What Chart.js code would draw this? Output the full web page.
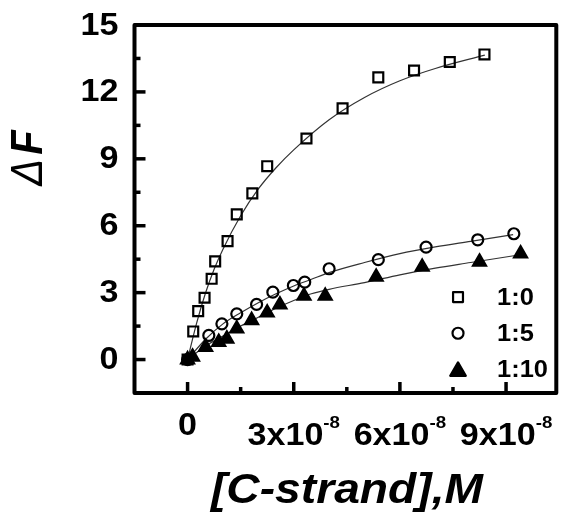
<!DOCTYPE html>
<html>
<head>
<meta charset="utf-8">
<title>ΔF vs [C-strand]</title>
<script src="https://cdn.jsdelivr.net/npm/chart.js"></script>
<style>
  html, body { margin: 0; padding: 0; background: #fff; }
  #wrap { width: 566px; height: 519px; }
</style>
</head>
<body>
<div id="wrap"><canvas id="chart" width="566" height="519"></canvas></div>
<script>
// concentrations in units of 10^-8 M
const seriesLabels = ['1:0', '1:5', '1:10'];

const conc10 = [0, 0.16, 0.30, 0.48, 0.68, 0.78, 1.13, 1.39, 1.83, 2.25, 3.36, 4.38, 5.39, 6.40, 7.41, 8.39];
const dF10   = [0, 1.26, 2.17, 2.77, 3.62, 4.40, 5.31, 6.51, 7.45, 8.67, 9.91, 11.26, 12.65, 12.96, 13.34, 13.68];

const conc15 = [0, 0.60, 0.97, 1.39, 1.95, 2.41, 2.99, 3.31, 4.00, 5.39, 6.74, 8.20, 9.22];
const dF15   = [0, 1.08, 1.60, 2.05, 2.47, 3.02, 3.32, 3.47, 4.07, 4.48, 5.04, 5.37, 5.64];

const conc110 = [0, 0.14, 0.51, 0.88, 1.11, 1.39, 1.81, 2.25, 2.61, 3.29, 3.89, 5.33, 6.63, 8.25, 9.41];
const dF110   = [0, 0.12, 0.56, 0.78, 0.93, 1.38, 1.76, 2.10, 2.46, 2.85, 2.85, 3.70, 4.15, 4.38, 4.75];

// fitted binding curves
const fitX10 = [0, 0.25, 0.5, 0.75, 1, 1.5, 2, 2.5, 3, 4, 5, 6, 7, 8.4];
const fitY10 = [0, 1.6, 2.95, 4.05, 4.95, 6.45, 7.65, 8.6, 9.4, 10.75, 11.75, 12.5, 13.05, 13.65];

const fitX15 = [0, 0.5, 1, 1.5, 2, 2.5, 3, 3.5, 4, 5, 6, 7, 8, 9.2];
const fitY15 = [0, 0.9, 1.6, 2.1, 2.55, 2.95, 3.3, 3.6, 3.9, 4.35, 4.75, 5.05, 5.3, 5.6];

const fitX110 = [0, 0.5, 1, 1.5, 2, 2.5, 3, 3.5, 4, 5, 6, 7, 8, 9.4];
const fitY110 = [0, 0.6, 1.05, 1.5, 1.9, 2.3, 2.65, 2.95, 3.15, 3.45, 3.8, 4.1, 4.35, 4.7];

const xMajor = [0, 3, 6, 9];
const xMinor = [1.5, 4.5, 7.5];
const yMajor = [0, 3, 6, 9, 12, 15];
const yMinor = [1.5, 4.5, 7.5, 10.5, 13.5];

const pts = (xs, ys) => xs.map((x, i) => ({ x, y: ys[i] }));
const FONT = '"Liberation Sans", Arial, sans-serif';

function stretchText(ctx, text, x, y, align, sx) {
  ctx.save();
  ctx.translate(x, y);
  ctx.scale(sx, 1);
  ctx.textAlign = align;
  ctx.fillText(text, 0, 0);
  ctx.restore();
}

const markerSet = (data, style, radius, filled) => ({
  data,
  showLine: false,
  pointStyle: style,
  pointRadius: radius,
  pointHoverRadius: radius,
  pointBorderWidth: 2.2,
  pointBorderColor: '#000',
  pointBackgroundColor: filled ? '#000' : 'rgba(0,0,0,0)'
});

const fitSet = (data) => ({
  data,
  showLine: true,
  pointRadius: 0,
  borderColor: '#333',
  borderWidth: 1.2,
  cubicInterpolationMode: 'monotone'
});

const axesPlugin = {
  id: 'axesPlugin',
  afterDatasetsDraw(chart) {
    const { ctx, chartArea: a, scales: { x, y } } = chart;
    ctx.save();
    ctx.strokeStyle = '#000';
    ctx.lineCap = 'butt';

    // inward ticks
    ctx.lineWidth = 3.5;
    const tick = (px, isX, len) => {
      ctx.beginPath();
      if (isX) { ctx.moveTo(px, a.bottom); ctx.lineTo(px, a.bottom - len); }
      else { ctx.moveTo(a.left, px); ctx.lineTo(a.left + len, px); }
      ctx.stroke();
    };
    xMajor.forEach(v => tick(x.getPixelForValue(v), true, 11));
    xMinor.forEach(v => tick(x.getPixelForValue(v), true, 6));
    yMajor.forEach(v => tick(y.getPixelForValue(v), false, 11));
    yMinor.forEach(v => tick(y.getPixelForValue(v), false, 6));

    // frame
    ctx.lineWidth = 4;
    ctx.lineJoin = 'round';
    ctx.strokeRect(a.left, a.top, a.right - a.left, a.bottom - a.top);

    ctx.fillStyle = '#000';

    // y tick labels
    ctx.font = 'bold 31px ' + FONT;
    ctx.textBaseline = 'middle';
    yMajor.forEach(v => stretchText(ctx, String(v), a.left - 16, y.getPixelForValue(v) + 1, 'right', 1.1));

    // x tick labels
    ctx.textBaseline = 'alphabetic';
    xMajor.forEach(v => {
      const px = x.getPixelForValue(v);
      if (v === 0) {
        ctx.font = 'bold 31px ' + FONT;
        stretchText(ctx, '0', px, 435, 'center', 1.1);
        return;
      }
      ctx.font = 'bold 31px ' + FONT;
      const main = v + 'x10';
      const wMain = ctx.measureText(main).width * 1.1;
      ctx.font = 'bold 17px ' + FONT;
      const wSup = ctx.measureText('-8').width * 1.1;
      const left = px - (wMain + wSup) / 2;
      ctx.font = 'bold 31px ' + FONT;
      stretchText(ctx, main, left, 445, 'left', 1.1);
      ctx.font = 'bold 17px ' + FONT;
      stretchText(ctx, '-8', left + wMain, 428, 'left', 1.1);
    });

    // x title
    ctx.font = 'italic bold 42px ' + FONT;
    stretchText(ctx, '[C-strand],M', 347, 503, 'center', 1.1);

    // y title, rotated
    ctx.save();
    ctx.translate(42, 158);
    ctx.rotate(-Math.PI / 2);
    ctx.scale(1, 1.1);
    ctx.font = 'italic 40px ' + FONT;
    const wD = ctx.measureText('Δ').width;
    ctx.font = 'italic bold 40px ' + FONT;
    const wF = ctx.measureText('F').width;
    const start = -(wD + 4 + wF) / 2;
    ctx.textAlign = 'left';
    ctx.font = 'italic 40px ' + FONT;
    ctx.fillText('Δ', start, 0);
    ctx.font = 'italic bold 40px ' + FONT;
    ctx.fillText('F', start + wD + 4, 0);
    ctx.restore();

    // legend
    const legend = [
      { style: 'rect', r: 7, fill: false },
      { style: 'circle', r: 5.5, fill: false },
      { style: 'triangle', r: 9, fill: true }
    ];
    const lx = a.left + 0.767 * (a.right - a.left);
    legend.forEach((m, i) => {
      const ly = y.getPixelForValue(2.8 - i * 1.62);
      ctx.strokeStyle = '#000';
      ctx.fillStyle = m.fill ? '#000' : 'rgba(0,0,0,0)';
      ctx.lineWidth = 2.2;
      Chart.helpers.drawPoint(ctx, { pointStyle: m.style, radius: m.r, rotation: 0, borderWidth: 2.2 }, lx, ly + (m.style === 'triangle' ? 2 : 0));
      ctx.fillStyle = '#000';
      ctx.font = 'bold 24px ' + FONT;
      ctx.textBaseline = 'middle';
      stretchText(ctx, seriesLabels[i], lx + 39, ly + 1, 'left', 1.06);
    });

    ctx.restore();
  }
};

new Chart(document.getElementById('chart'), {
  type: 'scatter',
  data: {
    datasets: [
      markerSet(pts(conc10, dF10), 'rect', 7, false),
      markerSet(pts(conc15, dF15), 'circle', 5.5, false),
      markerSet(pts(conc110, dF110), 'triangle', 7.5, true),
      fitSet(pts(fitX10, fitY10)),
      fitSet(pts(fitX15, fitY15)),
      fitSet(pts(fitX110, fitY110))
    ]
  },
  options: {
    responsive: false,
    animation: false,
    clip: false,
    layout: { padding: { left: 134.5, right: 3, top: 25, bottom: 126 } },
    scales: {
      x: { type: 'linear', min: -1.5, max: 10.42, display: false },
      y: { type: 'linear', min: -1.5, max: 15, display: false }
    },
    plugins: {
      legend: { display: false },
      tooltip: { enabled: false }
    }
  },
  plugins: [axesPlugin]
});
</script>
</body>
</html>
